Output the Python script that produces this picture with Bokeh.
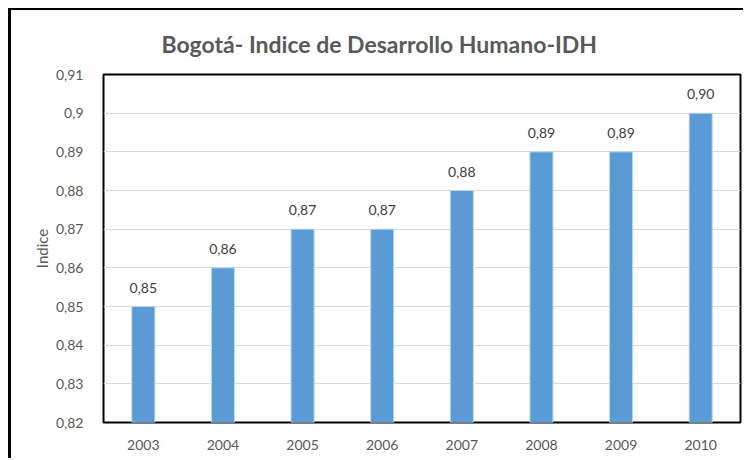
from bokeh.plotting import figure
from bokeh.models import FixedTicker, CustomJSTickFormatter, ColumnDataSource, Title
from bokeh.core.properties import value
from bokeh.embed import file_html
from bokeh.resources import INLINE

years = ["2003", "2004", "2005", "2006", "2007", "2008", "2009", "2010"]
idh = [0.85, 0.86, 0.87, 0.87, 0.88, 0.89, 0.89, 0.90]
labels = ["0,85", "0,86", "0,87", "0,87", "0,88", "0,89", "0,89", "0,90"]
y_ticks = [0.82, 0.83, 0.84, 0.85, 0.86, 0.87, 0.88, 0.89, 0.90, 0.91]
title_text = "Bogotá- Indice de Desarrollo  Humano-IDH"
y_label = "Indice"

FONT = "Lato"
TXT = "#595959"

src = ColumnDataSource(dict(x=years, top=idh, lab=labels))

p = figure(x_range=years, y_range=(0.82, 0.91), width=735, height=450,
           output_backend="svg", toolbar_location=None, title=None,
           min_border_left=92, min_border_right=6, min_border_top=64,
           min_border_bottom=38)
p.styles = {"border-left": "3px solid black", "border-top": "2px solid black",
            "margin-left": "8px", "margin-top": "8px"}

t = Title(text=title_text, align="left", offset=58, text_font=FONT,
          text_font_size="23px", text_font_style="bold", text_color=TXT,
          standoff=33)
p.add_layout(t, "above")

p.vbar(x="x", top="top", bottom=0.82, width=0.29, source=src,
       fill_color="#5B9BD5", line_color="#BDD7EE", line_width=1)
p.text(x="x", y="top", text="lab", source=src, text_align="center",
       text_baseline="bottom", y_offset=-14, text_font=value(FONT),
       text_font_size="14px", text_color="#404040")

p.outline_line_color = "black"
p.outline_line_width = 2
p.xgrid.grid_line_color = None
p.ygrid.grid_line_color = "#D9D9D9"
p.ygrid.grid_line_width = 1
p.yaxis.ticker = FixedTicker(ticks=y_ticks)
p.yaxis.formatter = CustomJSTickFormatter(code="""
var s = tick.toFixed(2).replace('.', ',');
if (s.endsWith('0')) { s = s.slice(0, -1); }
return s;
""")
for ax in (p.xaxis, p.yaxis):
    ax.axis_line_color = None
    ax.major_tick_line_color = None
    ax.minor_tick_line_color = None
    ax.major_label_text_font = FONT
    ax.major_label_text_font_size = "14px"
    ax.major_label_text_color = TXT
p.yaxis.major_label_standoff = 14
p.xaxis.major_label_standoff = 11
p.yaxis.axis_label = y_label
p.yaxis.axis_label_text_font = FONT
p.yaxis.axis_label_text_font_size = "15px"
p.yaxis.axis_label_text_font_style = "normal"
p.yaxis.axis_label_text_color = TXT
p.yaxis.axis_label_standoff = 2
p.x_range.range_padding = 0
p.background_fill_color = "white"
p.border_fill_color = "white"

open("out.html", "w").write(file_html(p, INLINE))
